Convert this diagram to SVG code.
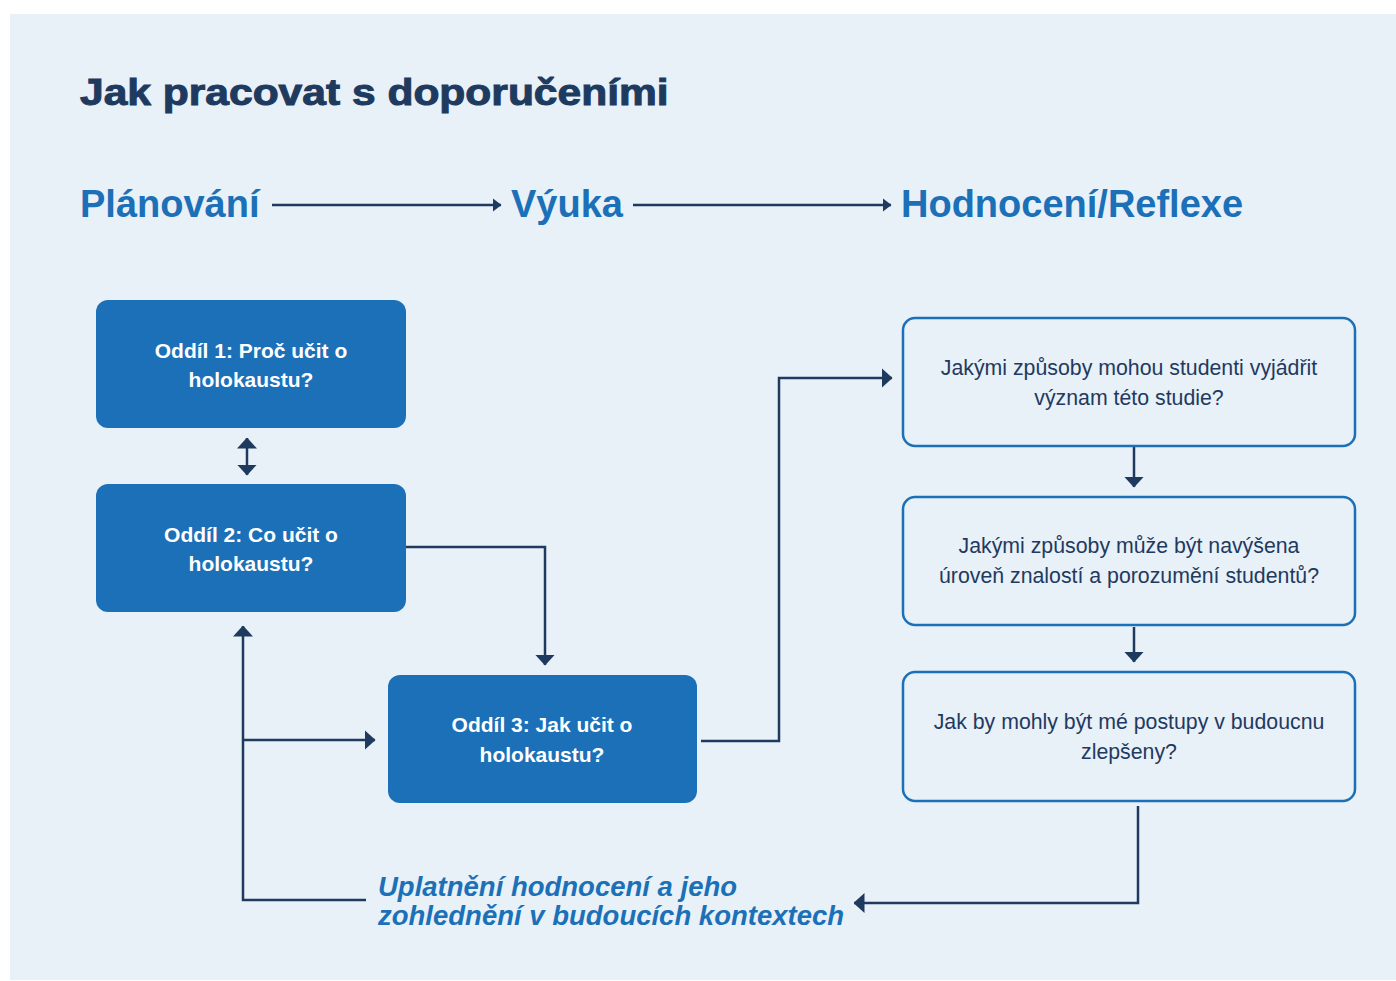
<svg xmlns="http://www.w3.org/2000/svg" width="1396" height="981" viewBox="0 0 1396 981">
<defs>
<marker id="ah" viewBox="0 0 9 14" refX="8.5" refY="7" markerWidth="9" markerHeight="14" markerUnits="userSpaceOnUse" orient="auto-start-reverse">
<path d="M0,0 L9,7 L0,14 z" fill="#1f3a5f"/>
</marker>
<marker id="ahb" viewBox="0 0 11 20" refX="10.5" refY="10" markerWidth="11" markerHeight="20" markerUnits="userSpaceOnUse" orient="auto-start-reverse">
<path d="M0,0 L11,10 L0,20 z" fill="#1f3a5f"/>
</marker>
</defs>
<style>
.bg{fill:#e8f0f8}
.title{font-family:"Liberation Sans",Arial,sans-serif;font-weight:bold;font-size:37px;fill:#1f3a5f;stroke:#1f3a5f;stroke-width:1}
.phase{font-family:"Liberation Sans",Arial,sans-serif;font-weight:bold;font-size:38px;fill:#1b70b8}
.solid{fill:#1b70b8}
.solidtxt{font-family:"Liberation Sans",Arial,sans-serif;font-weight:bold;font-size:21px;fill:#ffffff;text-anchor:middle}
.outline{fill:#e8f0f8;stroke:#1b70b8;stroke-width:2.5}
.outtxt{font-family:"Liberation Sans",Arial,sans-serif;font-size:21.3px;fill:#1f3a5f;text-anchor:middle}
.conn{fill:none;stroke:#1f3a5f;stroke-width:2.5}
.loop{font-family:"Liberation Sans",Arial,sans-serif;font-weight:bold;font-style:italic;font-size:27.5px;fill:#1b70b8}
</style>
<rect class="bg" x="10" y="14" width="1386" height="966"/>
<text class="title" transform="translate(80,105) scale(1.15,1)" x="0" y="0">Jak pracovat s doporučeními</text>
<g id="phases">
<text class="phase" x="80" y="217">Plánování</text>
<text class="phase" x="511" y="217">Výuka</text>
<text class="phase" x="901" y="217">Hodnocení/Reflexe</text>
</g>
<g id="connectors">
<line class="conn" x1="272" y1="205" x2="501" y2="205" marker-end="url(#ah)"/>
<line class="conn" x1="633" y1="205" x2="891" y2="205" marker-end="url(#ah)"/>
<line class="conn" x1="247" y1="438" x2="247" y2="475" marker-start="url(#ahb)" marker-end="url(#ahb)"/>
<polyline class="conn" points="406,547 545,547 545,665" marker-end="url(#ahb)"/>
<polyline class="conn" points="366,900 243,900 243,626" marker-end="url(#ahb)"/>
<line class="conn" x1="243" y1="740" x2="375" y2="740" marker-end="url(#ahb)"/>
<polyline class="conn" points="701,741 779,741 779,378 892,378" marker-end="url(#ahb)"/>
<line class="conn" x1="1134" y1="447" x2="1134" y2="487" marker-end="url(#ahb)"/>
<line class="conn" x1="1134" y1="627" x2="1134" y2="662" marker-end="url(#ahb)"/>
<polyline class="conn" points="1138,806 1138,903 854,903" marker-end="url(#ahb)"/>
</g>
<g id="oddil1">
<rect class="solid" x="96" y="300" width="310" height="128" rx="12"/>
<text class="solidtxt" x="251" y="358">Oddíl 1: Proč učit o</text>
<text class="solidtxt" x="251" y="387">holokaustu?</text>
</g>
<g id="oddil2">
<rect class="solid" x="96" y="484" width="310" height="128" rx="12"/>
<text class="solidtxt" x="251" y="542">Oddíl 2: Co učit o</text>
<text class="solidtxt" x="251" y="571">holokaustu?</text>
</g>
<g id="oddil3">
<rect class="solid" x="388" y="675" width="309" height="128" rx="12"/>
<text class="solidtxt" x="542" y="732">Oddíl 3: Jak učit o</text>
<text class="solidtxt" x="542" y="762">holokaustu?</text>
</g>
<g id="q1">
<rect class="outline" x="903" y="318" width="452" height="128" rx="12"/>
<text class="outtxt" x="1129" y="375">Jakými způsoby mohou studenti vyjádřit</text>
<text class="outtxt" x="1129" y="405">význam této studie?</text>
</g>
<g id="q2">
<rect class="outline" x="903" y="497" width="452" height="128" rx="12"/>
<text class="outtxt" x="1129" y="553">Jakými způsoby může být navýšena</text>
<text class="outtxt" x="1129" y="583">úroveň znalostí a porozumění studentů?</text>
</g>
<g id="q3">
<rect class="outline" x="903" y="672" width="452" height="129" rx="12"/>
<text class="outtxt" x="1129" y="729">Jak by mohly být mé postupy v budoucnu</text>
<text class="outtxt" x="1129" y="759">zlepšeny?</text>
</g>
<g id="loop-label">
<text class="loop" x="378" y="896">Uplatnění hodnocení a jeho</text>
<text class="loop" x="378" y="925">zohlednění v budoucích kontextech</text>
</g>
</svg>
